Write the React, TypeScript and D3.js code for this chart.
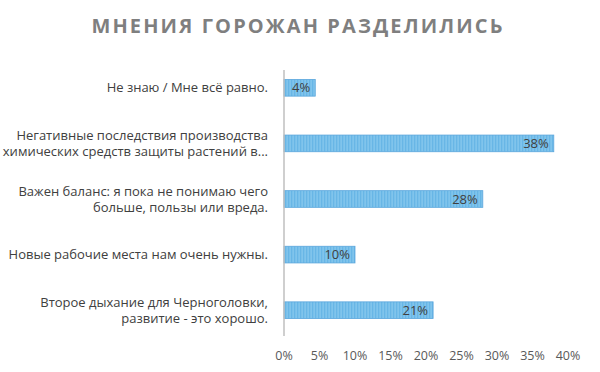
import React from 'react';
import { scaleLinear, scaleBand, range } from 'd3';

const categories: string[][] = [
  ['Не знаю / Мне всё равно.'],
  ['Негативные последствия производства', 'химических средств защиты растений в...'],
  ['Важен баланс: я пока не понимаю чего', 'больше, пользы или вреда.'],
  ['Новые рабочие места нам очень нужны.'],
  ['Второе дыхание для Черноголовки,', 'развитие - это хорошо.'],
];
const values: number[] = [4.4, 38, 28, 10, 21];
const valueLabels: string[] = ['4%', '38%', '28%', '10%', '21%'];
const ticks: number[] = [0, 5, 10, 15, 20, 25, 30, 35, 40];

const W = 600;
const H = 372;
const left = 284;
const right = 568;
const top = 60;
const bottom = 338;
const font = "'Open Sans', sans-serif";

const App: React.FC = () => {
  const x = scaleLinear<number>().domain([0, 40]).range([left, right]);
  const y = scaleBand<number>()
    .domain(range(categories.length))
    .range([top, bottom])
    .paddingInner(0.7)
    .paddingOuter(0.35);
  const bw = y.bandwidth();

  return (
    <svg width={W} height={H} style={{ position: 'absolute', left: 0, top: 0, background: '#fff' }}>
      <defs>
        <pattern id="stripes" width={3} height={10} patternUnits="userSpaceOnUse">
          <rect width={3} height={10} fill="#80c4ec" />
          <rect width={1.3} height={10} fill="#68b6e6" />
        </pattern>
      </defs>
      <text
        x={298}
        y={33}
        textAnchor="middle"
        fontFamily={font}
        fontWeight={700}
        fontSize={20}
        letterSpacing={2.1}
        fill="#7f7f7f"
      >
        МНЕНИЯ ГОРОЖАН РАЗДЕЛИЛИСЬ
      </text>

      {categories.map((lines, i) => {
        const cy = (y(i) as number) + bw / 2;
        const lh = 16;
        const start = cy - ((lines.length - 1) * lh) / 2;
        return (
          <text key={i} textAnchor="end" fontFamily={font} fontSize={13} fill="#404040">
            {lines.map((l, j) => (
              <tspan key={j} x={268} y={start + j * lh} dy="0.35em">
                {l}
              </tspan>
            ))}
          </text>
        );
      })}

      {values.map((v, i) => (
        <g key={i}>
          <rect
            x={x(0)}
            y={y(i)}
            width={x(v) - x(0)}
            height={bw}
            fill="url(#stripes)"
            stroke="#5aa6dc"
            strokeWidth={0.8}
          />
          <text
            x={x(v) - 5}
            y={(y(i) as number) + bw / 2}
            dy="0.36em"
            textAnchor="end"
            fontFamily={font}
            fontSize={13}
            fill="#404040"
          >
            {valueLabels[i]}
          </text>
        </g>
      ))}

      <line x1={left} x2={left} y1={70} y2={336} stroke="#bfbfbf" strokeWidth={1.5} />

      {ticks.map((t) => (
        <text
          key={t}
          x={x(t)}
          y={356}
          dy="0.35em"
          textAnchor="middle"
          fontFamily={font}
          fontSize={12.5}
          fill="#595959"
        >
          {t}%
        </text>
      ))}
    </svg>
  );
};

export default App;
